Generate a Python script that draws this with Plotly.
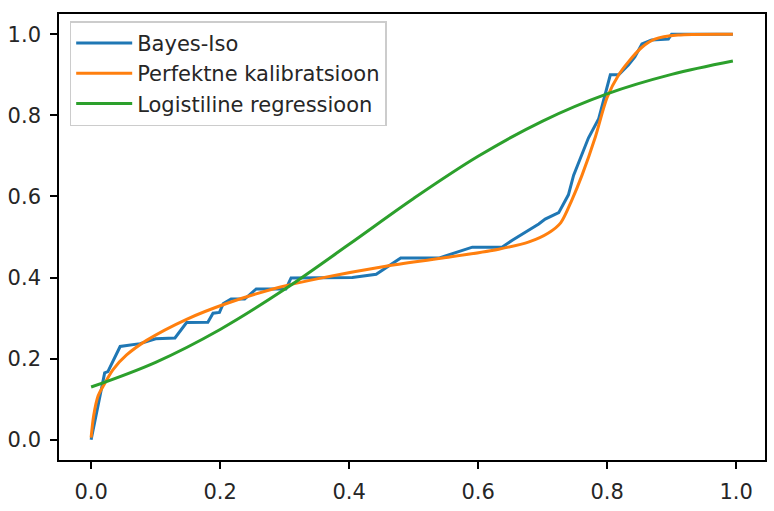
import plotly.graph_objects as go

# Bayes-Iso (step-like isotonic curve)
bayes_x = [0.0, 0.021, 0.026, 0.045, 0.076, 0.10, 0.13, 0.148, 0.181, 0.189, 0.199, 0.205,
           0.217, 0.238, 0.256, 0.302, 0.31, 0.405, 0.442, 0.48, 0.539, 0.591, 0.637, 0.653,
           0.694, 0.704, 0.725, 0.740, 0.748, 0.756, 0.771, 0.787, 0.797, 0.805, 0.818, 0.833,
           0.843, 0.854, 0.869, 0.895, 0.90, 0.995]
bayes_y = [0.0, 0.165, 0.168, 0.23, 0.237, 0.249, 0.251, 0.289, 0.29, 0.312, 0.314, 0.336,
           0.347, 0.347, 0.372, 0.372, 0.399, 0.40, 0.408, 0.448, 0.448, 0.475, 0.475, 0.492,
           0.532, 0.544, 0.56, 0.604, 0.652, 0.684, 0.744, 0.792, 0.852, 0.90, 0.90, 0.924,
           0.944, 0.976, 0.986, 0.988, 1.0, 1.0]

# Perfect calibration
perf_x = [0.0, 0.004, 0.011, 0.019, 0.034, 0.055, 0.086, 0.148, 0.21, 0.292, 0.354, 0.457,
          0.545, 0.632, 0.679, 0.709, 0.728, 0.745, 0.761, 0.782, 0.80, 0.818, 0.833, 0.854,
          0.874, 0.91, 0.995]
perf_y = [0.005, 0.06, 0.109, 0.133, 0.173, 0.209, 0.245, 0.297, 0.336, 0.376, 0.398, 0.428,
          0.448, 0.47, 0.488, 0.51, 0.535, 0.59, 0.652, 0.748, 0.844, 0.90, 0.932, 0.968,
          0.988, 0.998, 1.0]

# Logistic regression
logit_x = [0.0, 0.1, 0.2, 0.3, 0.4, 0.5, 0.6, 0.7, 0.8, 0.9, 0.995]
logit_y = [0.130, 0.191, 0.272, 0.371, 0.482, 0.595, 0.699, 0.786, 0.853, 0.901, 0.934]

tick_vals = [0.0, 0.2, 0.4, 0.6, 0.8, 1.0]
tick_text = ["0.0", "0.2", "0.4", "0.6", "0.8", "1.0"]

FONT = "DejaVu Sans"
FS = 21

fig = go.Figure()
fig.add_trace(go.Scatter(x=bayes_x, y=bayes_y, mode="lines", name="Bayes-Iso",
                         legendgroup="a", line=dict(color="#1f77b4", width=3)))
fig.add_trace(go.Scatter(x=perf_x, y=perf_y, mode="lines", name="Perfektne kalibratsioon",
                         legendgroup="b", line=dict(color="#ff7f0e", width=3, shape="spline", smoothing=0.8)))
fig.add_trace(go.Scatter(x=logit_x, y=logit_y, mode="lines", name="Logistiline regressioon",
                         legendgroup="c", line=dict(color="#2ca02c", width=3, shape="spline")))

axis_common = dict(showgrid=False, zeroline=False, showline=True, linecolor="black", linewidth=1.6,
                   mirror=True, ticks="outside", ticklen=7, tickwidth=1.6, tickcolor="black",
                   tickvals=tick_vals, ticktext=tick_text, ticklabelstandoff=5,
                   tickfont=dict(family=FONT, size=FS, color="#262626"))

fig.update_xaxes(range=[-0.0498, 1.0448], **axis_common)
fig.update_yaxes(range=[-0.05, 1.05], **axis_common)

fig.update_layout(
    width=774, height=511,
    margin=dict(l=59, r=7, t=14, b=39),
    paper_bgcolor="white", plot_bgcolor="white",
    font=dict(family=FONT, size=FS, color="#262626"),
    legend=dict(x=0.015, y=0.984, xanchor="left", yanchor="top",
                bgcolor="rgba(255,255,255,0.8)", bordercolor="#cccccc", borderwidth=1.6,
                font=dict(family=FONT, size=FS, color="#262626"),
                tracegroupgap=0, itemwidth=56),
    showlegend=True,
)

fig.write_html("out.html")
